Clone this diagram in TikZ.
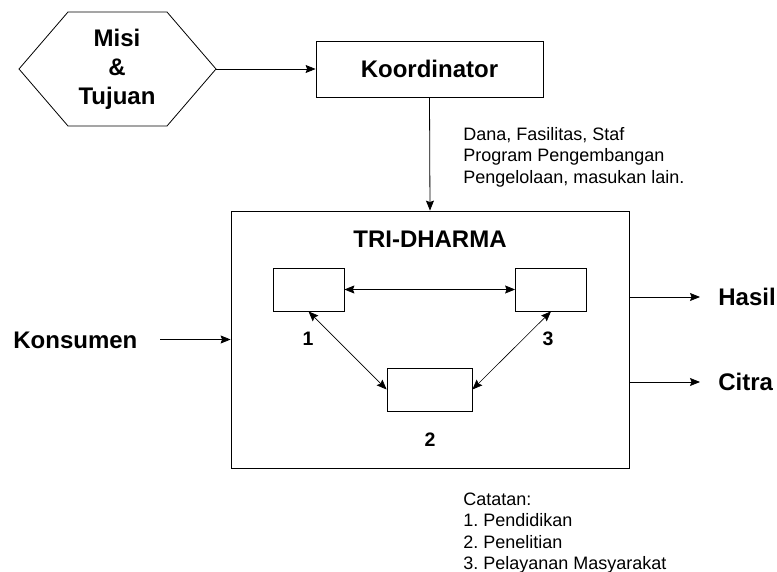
\documentclass[tikz,border=0pt]{standalone}
\usepackage{fontspec}
\setmainfont{Liberation Sans}
\usetikzlibrary{arrows.meta}
\frenchspacing
\begin{document}
\begin{tikzpicture}[x=1pt,y=-1pt,
  line width=0.8pt,
  tip/.style={-{Stealth[length=10pt,width=8pt,inset=1.5pt]}},
  tiptwo/.style={{Stealth[length=10pt,width=8pt,inset=1.5pt]}-{Stealth[length=10pt,width=8pt,inset=1.5pt]}},
  box/.style={draw, inner sep=0pt},
  big/.style={font=\bfseries\fontsize{24}{29}\selectfont},
  small/.style={font=\fontsize{18}{21.5}\selectfont},
  num/.style={font=\bfseries\fontsize{19.5}{22}\selectfont}]
\useasboundingbox (0,0) rectangle (777,572);

% mission hexagon
\draw (19,69) -- (68,12) -- (167,12) -- (216,69) -- (167,126) -- (68,126) -- cycle;
\coordinate (hexr) at (216,69);
\node[big, align=center, inner sep=0pt] (misi) at (117,69) {Misi\\\&\\Tujuan};

% coordinator
\node[box, big, minimum width=227pt, minimum height=56pt] (koor) at (429.5,69) {Koordinator};
\draw[tip] (hexr) -- (koor.west);

\node[small, anchor=west, align=left, inner sep=0pt] (dana) at (463,157)
  {Dana, Fasilitas, Staf\\Program Pengembangan\\Pengelolaan, masukan lain.};

% tri-dharma block
\node[box, minimum width=398pt, minimum height=257pt] (tri) at (430,339.5) {};
\draw[tip] (koor.south) -- (tri.north);
\node[big] (title) at (430,239) {TRI-DHARMA};

\node[box, minimum width=71pt, minimum height=43pt] (b1) at (308.5,289.5) {};
\node[box, minimum width=71pt, minimum height=43pt] (b3) at (551,289.5) {};
\node[box, minimum width=85pt, minimum height=43pt] (b2) at (429.5,389.5) {};

\draw[tiptwo] (b1.east) -- (b3.west);
\draw[tiptwo, line width=0.6pt] (b1.south) -- (b2.west);
\draw[tiptwo, line width=0.6pt] (b3.south) -- (b2.east);

\node[num] (n1) at (308,339) {1};
\node[num] (n3) at (548,339) {3};
\node[num] (n2) at (430,440) {2};

% inputs and outputs
\node[big, anchor=west, inner sep=0pt] (kons) at (13,340) {Konsumen};
\coordinate (kin) at (160,339.5);
\draw[tip] (kin) -- (tri.west);

\node[big, anchor=west, inner sep=0pt] (hasil) at (718,297) {Hasil};
\node[big, anchor=west, inner sep=0pt] (citra) at (718,382) {Citra};
\draw[tip] (tri.east |- hasil.west) -- ([xshift=-18pt]hasil.west);
\draw[tip] (tri.east |- citra.west) -- ([xshift=-18pt]citra.west);

% notes
\node[small, anchor=west, align=left, inner sep=0pt] (catatan) at (463,533)
  {Catatan:\\1. Pendidikan\\2. Penelitian\\3. Pelayanan Masyarakat};
\end{tikzpicture}
\end{document}
